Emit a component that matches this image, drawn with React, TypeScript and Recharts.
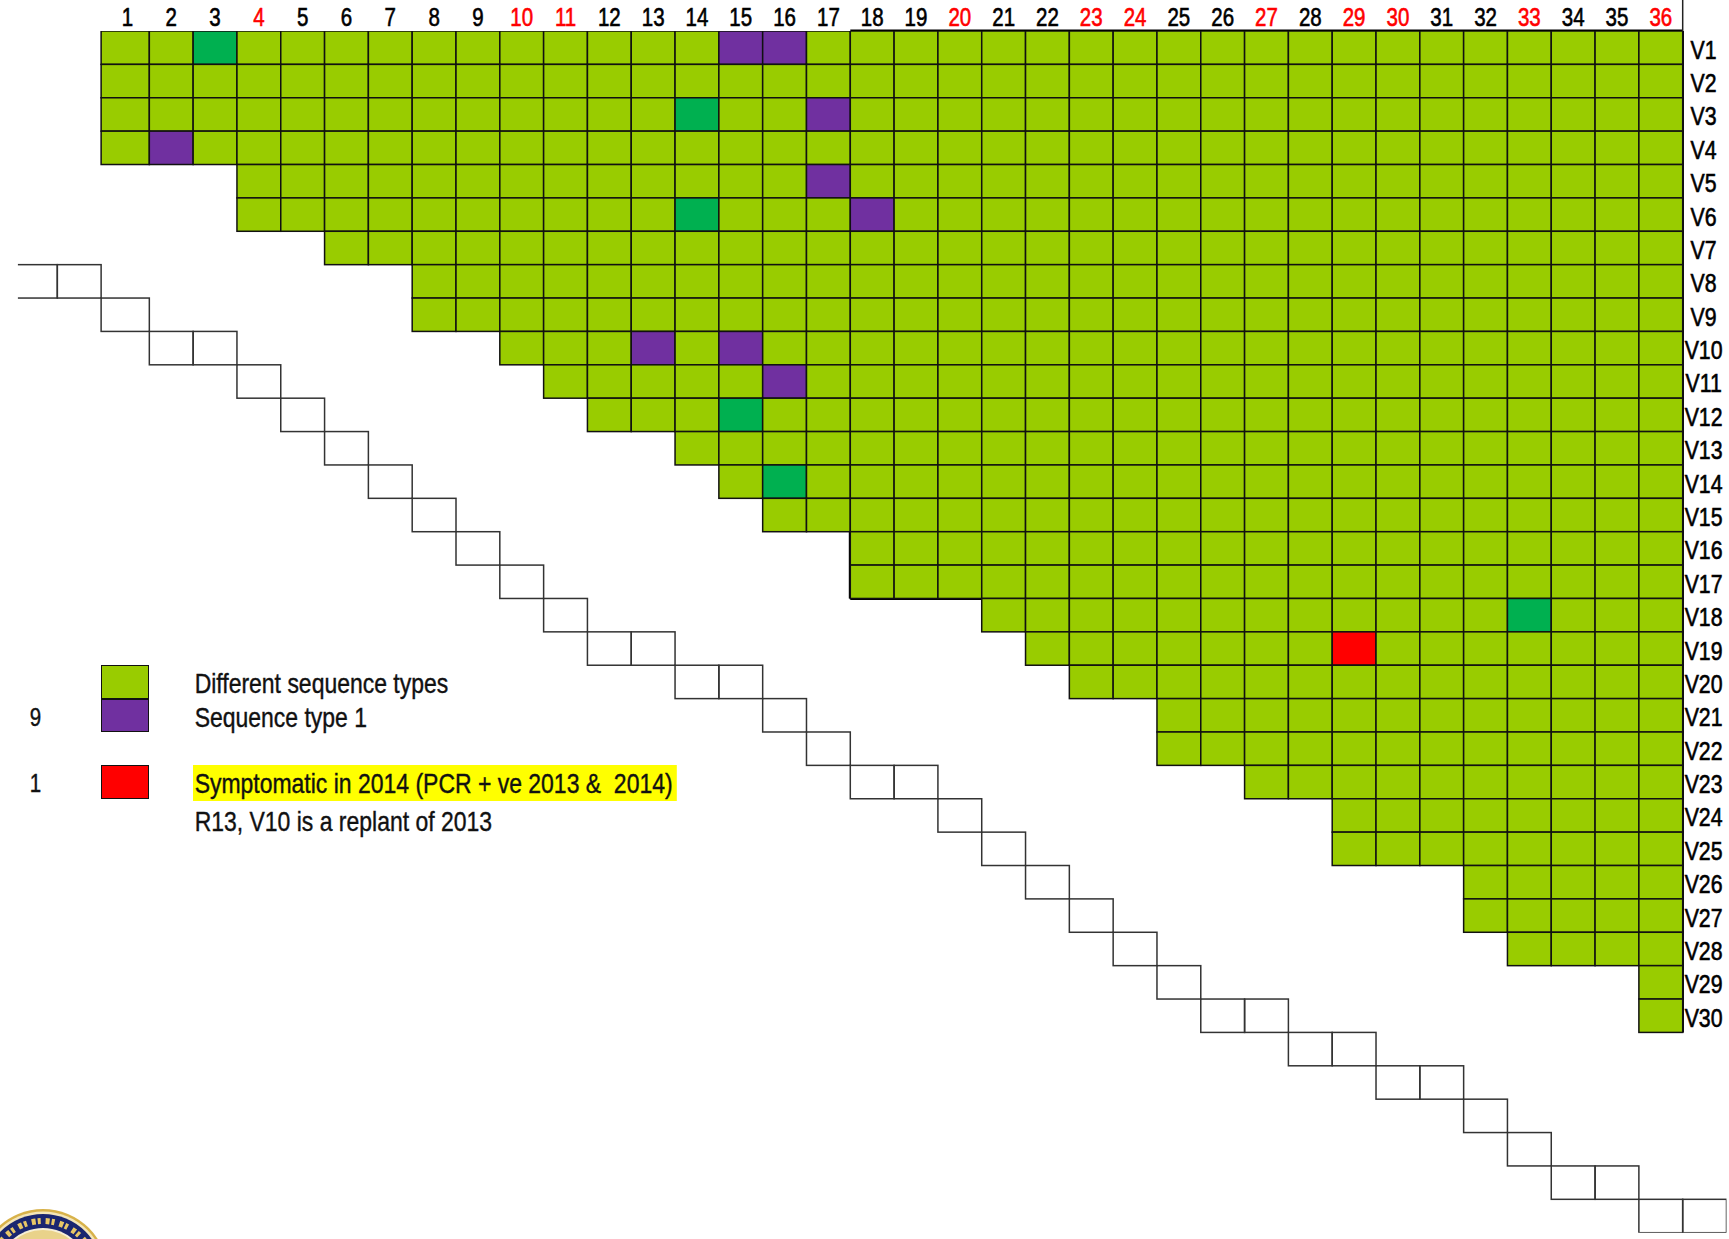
import React from 'react'
import { ScatterChart, Scatter, XAxis, YAxis, ReferenceLine, Legend } from 'recharts'

// column headers along the top, some of them printed in red
const columnNumbers = [
  1, 2, 3, 4, 5, 6, 7, 8, 9, 10, 11, 12, 13, 14, 15, 16, 17, 18,
  19, 20, 21, 22, 23, 24, 25, 26, 27, 28, 29, 30, 31, 32, 33, 34, 35, 36
]
const redColumns = [4, 10, 11, 20, 23, 24, 27, 29, 30, 33, 36]

const rowLabels = [
  'V1', 'V2', 'V3', 'V4', 'V5', 'V6', 'V7', 'V8', 'V9', 'V10',
  'V11', 'V12', 'V13', 'V14', 'V15', 'V16', 'V17', 'V18', 'V19', 'V20',
  'V21', 'V22', 'V23', 'V24', 'V25', 'V26', 'V27', 'V28', 'V29', 'V30'
]

// first filled column of every row (all rows run to column 36)
const rowFirstColumn = [
  1, 1, 1, 1, 4, 4, 6, 8, 8, 10, 11, 12, 14, 15, 16,
  18, 18, 21, 22, 23, 25, 25, 27, 29, 29, 32, 32, 33, 36, 36
]
const lastColumn = 36

// [row, column]
const purpleCells = [[1, 15], [1, 16], [3, 17], [4, 2], [5, 17], [6, 18], [10, 13], [10, 15], [11, 16]]
const darkGreenCells = [[1, 3], [3, 14], [6, 14], [12, 15], [14, 16], [18, 33]]
const redCells = [[19, 29]]

// empty outlined boxes running diagonally under the grid
const stairRows = [
  8, 9, 10, 11, 12, 13, 14, 15, 16, 17, 18, 19, 20, 21, 22,
  23, 24, 25, 26, 27, 28, 29, 30, 31, 32, 33, 34, 35, 36
]
const stairColumns = [
  [-1, 0], [1], [2, 3], [4], [5], [6], [7], [8], [9], [10], [11], [12, 13], [14, 15], [16], [17],
  [18, 19], [20], [21], [22], [23], [24], [25], [26, 27], [28, 29], [30, 31], [32], [33], [34, 35], [36, 37]
]

const LIME = '#99cc00'
const DARK_GREEN = '#00b050'
const PURPLE = '#7030a0'
const RED = '#ff0000'
// Liberation Sans squeezed to 82% ~ Arial Narrow
const FONT = "'Liberation Sans', Arial, sans-serif"
const NARROW = 0.82

const W = 1729
const H = 1239
const HEADER_H = 31
const YAXIS_W = 1
const MARGIN = { top: 0, right: 1.5, bottom: 6.3, left: 17.9 }
const X_DOMAIN: [number, number] = [-1.5, 37.5]
const Y_DOMAIN: [number, number] = [0.5, 36.5]
const CELL_W = (W - MARGIN.left - MARGIN.right - YAXIS_W) / (X_DOMAIN[1] - X_DOMAIN[0])
const CELL_H = (H - MARGIN.top - HEADER_H - MARGIN.bottom) / (Y_DOMAIN[1] - Y_DOMAIN[0])
const COL1_EXTRA = 4.4 // first column is drawn a bit wider

const hasCell = (list: number[][], row: number, col: number) =>
  list.some(([r, c]) => r === row && c === col)

const gridCells = rowLabels.flatMap((_, i) => {
  const row = i + 1
  const out: { row: number; col: number; kind: string }[] = []
  for (let col = rowFirstColumn[i]; col <= lastColumn; col++) {
    let kind = 'different'
    if (hasCell(purpleCells, row, col)) kind = 'type1'
    else if (hasCell(darkGreenCells, row, col)) kind = 'dark'
    else if (hasCell(redCells, row, col)) kind = 'symptomatic'
    out.push({ row, col, kind })
  }
  return out
})

const stairCells = stairRows.flatMap((row, i) => stairColumns[i].map(col => ({ row, col })))
const rowNumbers = rowLabels.map((_, i) => i + 1)

const kindColor: Record<string, string> = {
  different: LIME,
  type1: PURPLE,
  dark: DARK_GREEN,
  symptomatic: RED
}

const CellRect = (props: any) => {
  const { cx, cy, payload, fill, stroke } = props
  if (cx == null || cy == null) return null
  const shift = payload.col <= 1 ? COL1_EXTRA : 0
  const w = CELL_W + (payload.col === 1 ? COL1_EXTRA : 0)
  return (
    <rect
      x={cx - CELL_W / 2 - shift}
      y={cy - CELL_H / 2}
      width={w}
      height={CELL_H}
      fill={fill}
      stroke={stroke}
      strokeWidth={1.5}
    />
  )
}

const NarrowText = ({ x, y, fill, size = 25, children }: any) => (
  <text
    transform={`translate(${x} ${y}) scale(${NARROW} 1)`}
    textAnchor="middle"
    fontSize={size}
    fontFamily={FONT}
    fill={fill}
    stroke={fill}
    strokeWidth={0.6}
  >
    {children}
  </text>
)

const ColumnTick = ({ x, y, payload }: any) => (
  <NarrowText x={x} y={y} fill={redColumns.includes(payload.value) ? RED : '#000'}>
    {payload.value}
  </NarrowText>
)

const RowTick = ({ x, y, payload }: any) => (
  <NarrowText x={x - CELL_W / 2 - YAXIS_W} y={y + 11} size={26} fill="#000">
    {rowLabels[payload.value - 1]}
  </NarrowText>
)

const rowTop = (row: number) => MARGIN.top + HEADER_H + (row - 1) * CELL_H
const LEGEND_TOP = rowTop(20)
const col1Left = MARGIN.left + (1.5 - X_DOMAIN[0]) * CELL_W - CELL_W - COL1_EXTRA

const legendItems = [
  { row: 20, color: LIME, label: 'Different sequence types', count: null as number | null, highlight: false },
  { row: 21, color: PURPLE, label: 'Sequence type 1', count: purpleCells.length, highlight: false },
  { row: 23, color: RED, label: 'Symptomatic in 2014 (PCR + ve 2013 &  2014)', count: redCells.length, highlight: true }
]

const narrowStyle: React.CSSProperties = {
  position: 'absolute',
  whiteSpace: 'pre',
  transform: `scaleX(${NARROW})`,
  transformOrigin: 'left center',
  WebkitTextStroke: '0.4px #111'
}

const LegendBox = () => (
  <div style={{ position: 'relative', width: 720, height: 200, fontFamily: FONT, color: '#111' }}>
    {legendItems.map(item => {
      const top = rowTop(item.row) - LEGEND_TOP
      return (
        <React.Fragment key={item.label}>
          {item.count != null && (
            <div
              style={{
                position: 'absolute',
                left: 14,
                width: 43,
                top: top + 2,
                height: CELL_H,
                lineHeight: `${CELL_H}px`,
                fontSize: 25,
                textAlign: 'center',
                transform: `scaleX(${NARROW})`,
                WebkitTextStroke: '0.4px #111'
              }}
            >
              {item.count}
            </div>
          )}
          <div
            style={{
              position: 'absolute',
              left: col1Left,
              top,
              width: CELL_W + COL1_EXTRA,
              height: CELL_H,
              boxSizing: 'border-box',
              background: item.color,
              border: '1.5px solid #111'
            }}
          />
          <div
            style={{
              ...narrowStyle,
              left: 193,
              top: item.highlight ? top : top + 2,
              height: item.highlight ? CELL_H + 2 : CELL_H,
              lineHeight: `${item.highlight ? CELL_H + 4 : CELL_H}px`,
              fontSize: 28,
              paddingLeft: 2,
              paddingRight: item.highlight ? 5 : 0,
              background: item.highlight ? '#ffff00' : 'transparent'
            }}
          >
            {item.label}
          </div>
        </React.Fragment>
      )
    })}
    <div
      style={{
        ...narrowStyle,
        left: 193,
        paddingLeft: 2,
        top: rowTop(24) - LEGEND_TOP + 6,
        height: CELL_H,
        lineHeight: `${CELL_H}px`,
        fontSize: 28
      }}
    >
      R13, V10 is a replant of 2013
    </div>
  </div>
)

// partial university seal peeking in at the bottom-left corner
const Seal = () => (
  <svg width={140} height={40} style={{ position: 'absolute', left: 0, top: H - 40 }}>
    <circle cx={43} cy={75} r={65} fill="#d8b24a" />
    <circle cx={43} cy={75} r={62.5} fill="#f4e6b8" />
    <circle cx={43} cy={75} r={60} fill="#1a2670" />
    <circle cx={43} cy={75} r={53} fill="none" stroke="#e8c766" strokeWidth={6} strokeDasharray="4 2 3 5" />
    <circle cx={43} cy={75} r={46} fill="#f6efd6" />
    <circle cx={43} cy={75} r={44} fill="#e9d28a" />
  </svg>
)

const App = () => {
  return (
    <div style={{ position: 'absolute', left: 0, top: 0, width: W, height: H, overflow: 'hidden', background: '#fff' }}>
      <ScatterChart width={W} height={H} margin={MARGIN}>
        <XAxis
          type="number"
          dataKey="col"
          orientation="top"
          domain={X_DOMAIN}
          ticks={columnNumbers}
          interval={0}
          height={HEADER_H}
          axisLine={false}
          tickLine={false}
          tickSize={0}
          tickMargin={5}
          tick={<ColumnTick />}
          allowDataOverflow
        />
        <YAxis
          type="number"
          dataKey="row"
          orientation="right"
          domain={Y_DOMAIN}
          reversed
          ticks={rowNumbers}
          interval={0}
          width={YAXIS_W}
          axisLine={false}
          tickLine={false}
          tickSize={0}
          tickMargin={0}
          tick={<RowTick />}
          allowDataOverflow
        />
        <Scatter
          data={gridCells}
          isAnimationActive={false}
          shape={(p: any) => <CellRect {...p} fill={kindColor[p.payload.kind]} stroke="#111" />}
        />
        <Scatter
          data={stairCells}
          isAnimationActive={false}
          shape={(p: any) => <CellRect {...p} fill="none" stroke="#333" />}
        />
        <ReferenceLine segment={[{ x: 17.5, y: 0.5 }, { x: 36.5, y: 0.5 }]} stroke="#000" strokeWidth={3} ifOverflow="visible" />
        <ReferenceLine segment={[{ x: 17.5, y: 0.5 }, { x: 17.5, y: 17.5 }]} stroke="#000" strokeWidth={3} ifOverflow="visible" />
        <ReferenceLine segment={[{ x: 17.5, y: 17.5 }, { x: 36.5, y: 17.5 }]} stroke="#000" strokeWidth={3} ifOverflow="visible" />
        <ReferenceLine segment={[{ x: 36.5, y: 0.5 }, { x: 36.5, y: 30.5 }]} stroke="#000" strokeWidth={2.5} ifOverflow="visible" />
        <ReferenceLine segment={[{ x: 36.5, y: -0.45 }, { x: 36.5, y: 0.5 }]} stroke="#222" strokeWidth={1.5} ifOverflow="visible" />
        <Legend
          layout="vertical"
          align="center"
          verticalAlign="middle"
          wrapperStyle={{ left: 0, top: LEGEND_TOP, width: 720, height: 200 }}
          content={() => <LegendBox />}
        />
      </ScatterChart>
      <Seal />
    </div>
  )
}

export default App
